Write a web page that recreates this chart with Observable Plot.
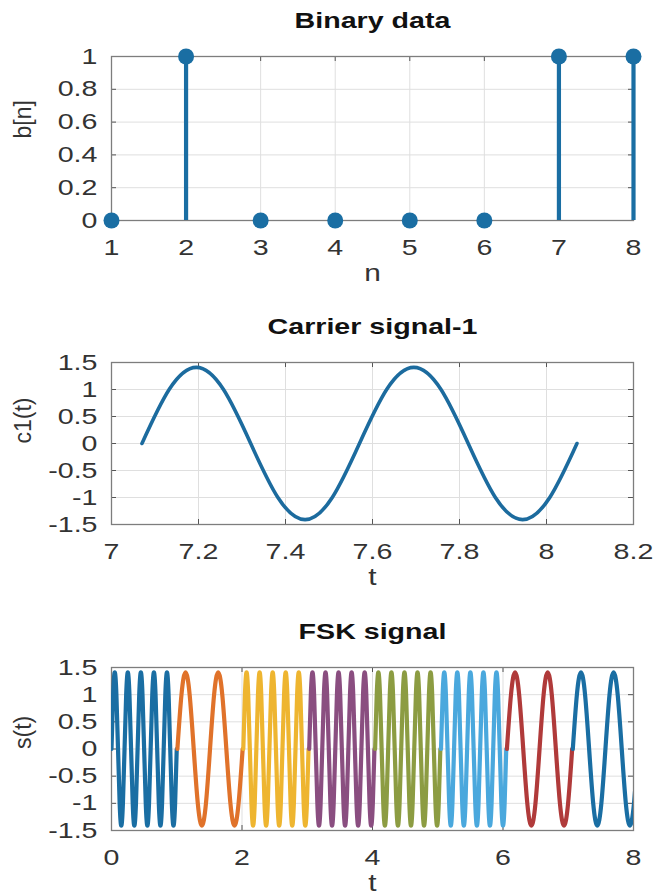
<!DOCTYPE html>
<html><head><meta charset="utf-8">
<script src="https://cdn.jsdelivr.net/npm/d3@7"></script>
<script src="https://cdn.jsdelivr.net/npm/@observablehq/plot@0.6"></script>
<style>
body{margin:0;background:#fff;}
#chart{width:654px;}
#chart svg{display:block;}
</style></head><body><div id="chart"></div>
<script>
// ---- Binary data ----
const nIdx = [1, 2, 3, 4, 5, 6, 7, 8];
const bits = [0, 1, 0, 0, 0, 0, 1, 1];
const nTicks = [1, 2, 3, 4, 5, 6, 7, 8];
const bTicks = [0, 0.2, 0.4, 0.6, 0.8, 1];

// ---- waveform shape read at 1/8-cycle steps ----
const cycleShape = [0, 1, 1.41, 1, 0, -1, -1.41, -1];

// ---- Carrier signal-1 ----
const carrierStart = 7.07;
const carrierDuration = 1;
const carrierCycles = 2;
const c1Ticks = [7, 7.2, 7.4, 7.6, 7.8, 8, 8.2];
const ampTicks = [-1.5, -1, -0.5, 0, 0.5, 1, 1.5];

// ---- FSK signal ----
const segStart = [0, 1.01, 2.02, 3.03, 4.04, 5.05, 6.06, 7.07];
const segDuration = 1;
const segCycles = [5, 2, 5, 5, 5, 5, 2, 2];
const segColors = ["#1a6ea3", "#e0722a", "#eeb530", "#8a4e80", "#8c9c42", "#4aa8dd", "#b03a3a", "#1a6ea3"];
const sTicks = [0, 2, 4, 6, 8];

const FONT = "'Liberation Sans', Arial, Helvetica, sans-serif";
const TXT = "#333";
const GRID = "#dfdfdf";
const FRAME = "#7d7d7d";
const TICK = "#555";
const SX = 1.3; // horizontal widening of the lettering
const fmt = d => String(d);
const W = 654, ML = 111, MR = 21, FW = W - ML - MR;

function wave(start, duration, cycles) {
  const n = 8 * cycles, pts = [];
  for (let j = 0; j <= n; j++) pts.push({t: start + duration * j / n, v: cycleShape[j % 8]});
  return pts;
}

function frameMarks(xt, yt, fh) {
  const L = 5;
  return [
    Plot.gridX({ticks: xt, stroke: GRID, strokeOpacity: 1}),
    Plot.gridY({ticks: yt, stroke: GRID, strokeOpacity: 1}),
    Plot.tickY(yt, {y: d => d, insetRight: FW - L, stroke: TICK}),
    Plot.tickY(yt, {y: d => d, insetLeft: FW - L, stroke: TICK}),
    Plot.tickX(xt, {x: d => d, insetTop: fh - L, stroke: TICK}),
    Plot.tickX(xt, {x: d => d, insetBottom: fh - L, stroke: TICK}),
    Plot.frame({stroke: FRAME, strokeWidth: 1.3}),
    Plot.axisX({ticks: xt, tickSize: 0, tickPadding: 19, tickFormat: fmt, label: null}),
    Plot.axisY({ticks: yt, tickSize: 0, tickPadding: 14, tickFormat: fmt, label: null})
  ];
}

function decorations(title, ylab, xlab) {
  return [
    Plot.text([title], {text: d => d, frameAnchor: "top", dy: -36, fontWeight: "bold", fontSize: 22, fill: "#111", lineAnchor: "middle"}),
    Plot.text([ylab], {text: d => d, frameAnchor: "left", dx: -88, rotate: -90, fontSize: 23, fill: TXT, lineAnchor: "middle"}),
    Plot.text([xlab], {text: d => d, frameAnchor: "bottom", dy: 53, fontSize: 23, fill: TXT, lineAnchor: "middle"})
  ];
}

const common = {
  width: W, marginLeft: ML, marginRight: MR,
  style: {fontFamily: FONT, fontSize: "22px", color: TXT, background: "#fff", overflow: "visible"}
};

// Plot 1
const binData = nIdx.map((n, i) => ({n, b: bits[i]}));
const p1 = Plot.plot({
  ...common, height: 290, marginTop: 56, marginBottom: 70,
  x: {domain: [1, 8]}, y: {domain: [0, 1]},
  marks: [
    ...frameMarks(nTicks, bTicks, 290 - 56 - 70),
    Plot.ruleX(binData, {x: "n", y1: 0, y2: "b", stroke: "#1a6ea3", strokeWidth: 4.2}),
    Plot.dot(binData, {x: "n", y: "b", r: 8, fill: "#1a6ea3", stroke: "none"}),
    ...decorations("Binary data", "b[n]", "n")
  ]
});

// Plot 2
const p2 = Plot.plot({
  ...common, height: 300, marginTop: 72, marginBottom: 66,
  x: {domain: [7, 8.2]}, y: {domain: [-1.5, 1.5]},
  marks: [
    ...frameMarks(c1Ticks, ampTicks, 300 - 72 - 66),
    Plot.line(wave(carrierStart, carrierDuration, carrierCycles), {x: "t", y: "v", stroke: "#1c6b9e", strokeWidth: 3.6, curve: "natural"}),
    ...decorations("Carrier signal-1", "c1(t)", "t")
  ]
});

// Plot 3
const p3 = Plot.plot({
  ...common, height: 305, marginTop: 77, marginBottom: 65,
  x: {domain: [0, 8]}, y: {domain: [-1.5, 1.5]},
  marks: [
    ...frameMarks(sTicks, ampTicks, 305 - 77 - 65),
    ...segStart.map((s, i) => Plot.line(wave(s, segDuration, segCycles[i]), {x: "t", y: "v", stroke: segColors[i], strokeWidth: 4.2, curve: "natural", clip: true})),
    ...decorations("FSK signal", "s(t)", "t")
  ]
});

const root = document.getElementById("chart");
root.append(p1, p2, p3);

// widen horizontal lettering (not the rotated axis titles)
root.querySelectorAll("text").forEach(t => {
  const tr = t.getAttribute("transform") || "";
  if (tr.includes("rotate")) return;
  const len = t.getComputedTextLength();
  if (len > 0) {
    t.setAttribute("textLength", (len * SX).toFixed(1));
    t.setAttribute("lengthAdjust", "spacingAndGlyphs");
  }
});
</script>
</body></html>
